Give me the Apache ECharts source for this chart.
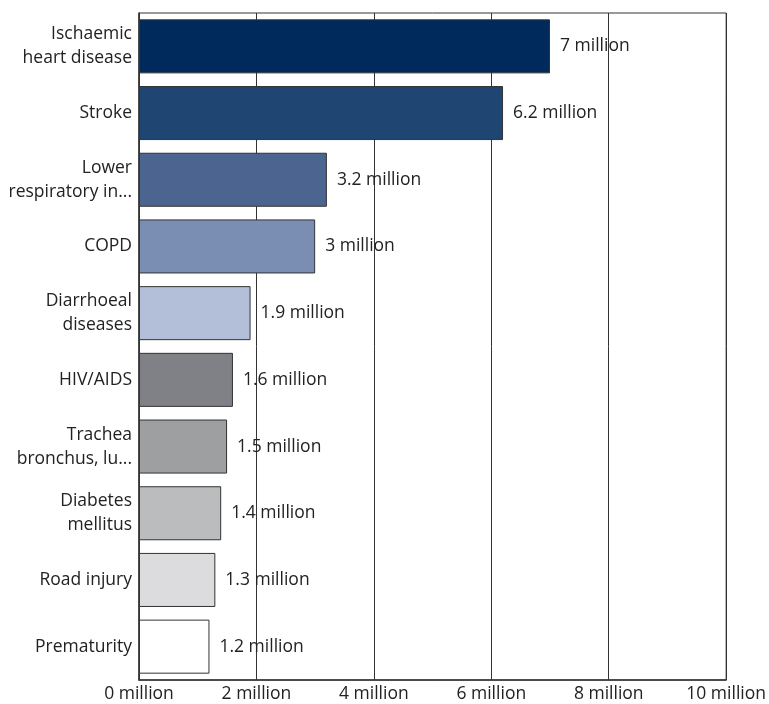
<!DOCTYPE html>
<html>
<head>
<meta charset="utf-8">
<script src="https://cdn.jsdelivr.net/npm/echarts@6/dist/echarts.min.js"></script>
<style>html,body{margin:0;padding:0;background:#fff;}#c{width:769px;height:704px;}</style>
</head>
<body>
<div id="c"></div>
<script>
const categories = ["Ischaemic\nheart disease","Stroke","Lower\nrespiratory in...","COPD","Diarrhoeal\ndiseases","HIV/AIDS","Trachea\nbronchus, lu...","Diabetes\nmellitus","Road injury","Prematurity"];
const valuesMillion = [7, 6.2, 3.2, 3, 1.9, 1.6, 1.5, 1.4, 1.3, 1.2];
const barColors = ["#002a5c","#1f4672","#4b6590","#7a8db3","#b3bed9","#808186","#9e9fa1","#bbbcbe","#dcdcde","#ffffff"];
const xTicks = [0, 2, 4, 6, 8, 10];

const chart = echarts.init(document.getElementById('c'));
const font = "'Open Sans', sans-serif";
chart.setOption({
  animation: false,
  grid: {left: 139, right: 41, top: 13, bottom: 24, show: true, borderColor: '#333', borderWidth: 1, containLabel: false},
  xAxis: {
    type: 'value', min: xTicks[0], max: xTicks[xTicks.length-1], interval: 2,
    axisLine: {show: true, lineStyle: {color: '#333', width: 1.5}},
    axisTick: {show: false},
    splitLine: {show: true, lineStyle: {color: '#333', width: 1}},
    axisLabel: {formatter: v => v + ' million', color: '#222', fontFamily: font, fontSize: 17.5, margin: 5}
  },
  yAxis: {
    type: 'category', data: categories, inverse: true,
    axisLine: {show: true, lineStyle: {color: '#333', width: 1.5}},
    axisTick: {show: false},
    axisLabel: {color: '#222', fontFamily: font, fontSize: 17.5, margin: 7, lineHeight: 24, align: 'right'}
  },
  series: [{
    type: 'bar',
    data: valuesMillion.map((v, i) => ({value: v, itemStyle: {color: barColors[i]}})),
    barCategoryGap: '19%',
    itemStyle: {borderColor: '#333', borderWidth: 1},
    label: {show: true, position: 'right', distance: 10, formatter: p => p.value + ' million', color: '#222', fontFamily: font, fontSize: 17.5}
  }]
});
</script>
</body>
</html>
